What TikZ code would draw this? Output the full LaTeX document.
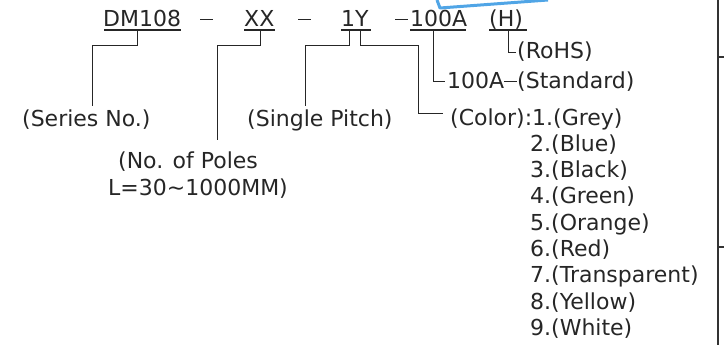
\documentclass[tikz,border=0pt]{standalone}
\usepackage{fontspec}
\setmainfont{DejaVu Sans}
\newcommand{\cadDash}{\rule[6.5pt]{13pt}{1.1pt}}
\begin{document}
\begin{tikzpicture}[x=1pt,y=-1pt,
  txt/.style={inner sep=0pt,anchor=base west,text=black!85,font=\fontsize{22}{26}\selectfont},
  uline/.style={draw=black!85,line width=1.2pt},
  conn/.style={draw=black!85,line width=0.9pt},
  frame/.style={draw=black!80,line width=1.4pt}]
\useasboundingbox (0,0) rectangle (724,345);
% scan mark
\draw[draw={rgb,255:red,80;green,165;blue,230},line width=3pt,line join=round] (437,0) -- (440,8) -- (548,0);
% frame
\draw[frame] (718,0) -- (718,345);
\draw[frame] (718,57) -- (724,57);
\draw[frame] (718,247) -- (724,247);
% top row
\node[txt] (dm) at (103,27) {DM108};
\node[txt] (d1) at (200,27) {\cadDash};
\node[txt] (xx) at (244,27) {XX};
\node[txt] (d2) at (298,27) {\cadDash};
\node[txt] (oy) at (341,27) {1Y};
\node[txt] (d3) at (395,27) {\cadDash};
\node[txt] (ha) at (410,27) {100A};
\node[txt] (hh) at (489,27) {(H)};
\coordinate (u1a) at (104,30); \coordinate (u1b) at (181,30);
\coordinate (u2a) at (244,30); \coordinate (u2b) at (275,30);
\coordinate (u3a) at (341,30); \coordinate (u3b) at (371,30);
\coordinate (u4a) at (410,30); \coordinate (u4b) at (466,30);
\coordinate (u5a) at (489,30); \coordinate (u5b) at (527,30);
\draw[uline] (u1a) -- (u1b);
\draw[uline] (u2a) -- (u2b);
\draw[uline] (u3a) -- (u3b);
\draw[uline] (u4a) -- (u4b);
\draw[uline] (u5a) -- (u5b);
% labels
\node[txt] (series) at (22,127) {(Series No.)};
\node[txt] (pitch) at (247,127) {(Single Pitch)};
\node[txt] (poles1) at (118,168) {(No. of Poles};
\node[txt] (poles2) at (108,196) {L=30\textasciitilde1000MM)};
\node[txt] (color) at (450,125) {(Color):1.(Grey)};
\node[txt] (std) at (447,89) {100A\cadDash(Standard)};
\node[txt] (rohs) at (517,59) {(RoHS)};
\foreach \i/\c in {2/Blue,3/Black,4/Green,5/Orange,6/Red,7/Transparent,8/Yellow,9/White}{
  \node[txt] (col\i) at (530,{125+26.3*(\i-1)}) {\i.(\c)};
}
% connectors
\coordinate (c1) at (137,30); \coordinate (c1e) at (92,106);
\draw[conn] (c1) -- (137,45) -- (92,45) -- (c1e);
\coordinate (c2) at (260,30); \coordinate (c2e) at (217,140);
\draw[conn] (c2) -- (260,45) -- (217,45) -- (c2e);
\coordinate (c3) at (349,30); \coordinate (c3e) at (305,106);
\draw[conn] (c3) -- (349,45) -- (305,45) -- (c3e);
\coordinate (c4) at (360,30); \coordinate (c4e) at (443,113);
\draw[conn] (c4) -- (360,45) -- (418,45) -- (418,113) -- (c4e);
\coordinate (c5) at (433,30); \coordinate (c5e) at (445,81);
\draw[conn] (c5) -- (433,81) -- (c5e);
\coordinate (c6) at (508,30); \coordinate (c6e) at (516,52);
\draw[conn] (c6) -- (508,52) -- (c6e);
\end{tikzpicture}
\end{document}
